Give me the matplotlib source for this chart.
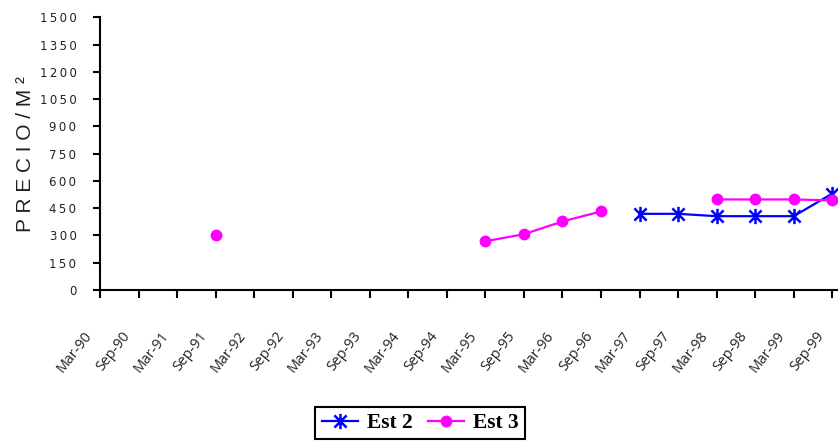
import numpy as np
import matplotlib
matplotlib.use("Agg")
import matplotlib.pyplot as plt
import matplotlib.transforms as mtransforms
from matplotlib.path import Path
from matplotlib.ticker import FuncFormatter

categories = ["Mar-90", "Sep-90", "Mar-91", "Sep-91", "Mar-92", "Sep-92", "Mar-93",
              "Sep-93", "Mar-94", "Sep-94", "Mar-95", "Sep-95", "Mar-96", "Sep-96",
              "Mar-97", "Sep-97", "Mar-98", "Sep-98", "Mar-99", "Sep-99"]
nan = np.nan
est2 = [nan, nan, nan, nan, nan, nan, nan, nan, nan, nan,
        nan, nan, nan, nan, 419, 419, 406, 406, 406, 530]
est3 = [nan, nan, nan, 305, nan, nan, nan, nan, nan, nan,
        268, 307, 377, 432, nan, nan, 498, 498, 498, 493]
yticks = list(range(0, 1501, 150))

fig = plt.figure(figsize=(8.38, 4.43), dpi=100)
W, H = 838, 443
ax = fig.add_axes([100 / W, 1 - 290 / H, 738 / W, (290 - 17.3) / H])

x = np.arange(len(categories))

star = Path([(0, -1), (0, 1), (-0.8, -0.8), (0.8, 0.8), (-0.8, 0.8), (0.8, -0.8)],
            [Path.MOVETO, Path.LINETO, Path.MOVETO, Path.LINETO, Path.MOVETO, Path.LINETO])

ax.plot(x, est2, color="#0000FF", lw=1.6, marker=star, markersize=11,
        markeredgewidth=1.8, markeredgecolor="#0000FF", label="Est 2", clip_on=False)
ax.plot(x, est3, color="#FF00FF", lw=1.6, marker="o", markersize=7.5,
        markeredgecolor="#FF00FF", markerfacecolor="#FF00FF", label="Est 3", clip_on=False)

ax.set_xlim(0, 19.15)
ax.set_ylim(0, 1500)
ax.set_yticks(yticks)
ax.yaxis.set_major_formatter(FuncFormatter(lambda v, p: "\u2009".join(str(int(v)))))
ax.set_xticks(x)
ax.set_xticklabels([])

offset = mtransforms.ScaledTranslation(-11 / 100, -43 / 100, fig.dpi_scale_trans)
label_tr = ax.get_xaxis_transform() + offset
for xi, cat in zip(x, categories):
    ax.text(xi, 0, cat, transform=label_tr, rotation=52, ha="right", va="center",
            rotation_mode="anchor", fontsize=10.3, color="#222222",
            family="Open Sans", clip_on=False)

ax.tick_params(axis="y", direction="out", length=5, width=1.5, pad=12,
               labelsize=8.5, labelcolor="#222222")
ax.tick_params(axis="x", direction="out", length=6, width=1.5, pad=0)

for s in ["top", "right"]:
    ax.spines[s].set_visible(False)
for s in ["left", "bottom"]:
    ax.spines[s].set_linewidth(1.5)
    ax.spines[s].set_color("black")

ax.set_ylabel("P R E C I O / M \u00b2", fontsize=15, family="Liberation Sans",
              color="#222222", labelpad=3)

leg = ax.legend(loc="center", bbox_to_anchor=(420 / W, 1 - 423 / H),
                bbox_transform=fig.transFigure, ncol=2, frameon=True, fancybox=False,
                edgecolor="black", framealpha=1, handlelength=1.7, columnspacing=0.7,
                handletextpad=0.4, borderpad=0.3, borderaxespad=0,
                prop={"family": "Liberation Serif", "weight": "bold", "size": 15.5})
leg.get_frame().set_linewidth(1.5)

fig.savefig("out.png", dpi=100)
